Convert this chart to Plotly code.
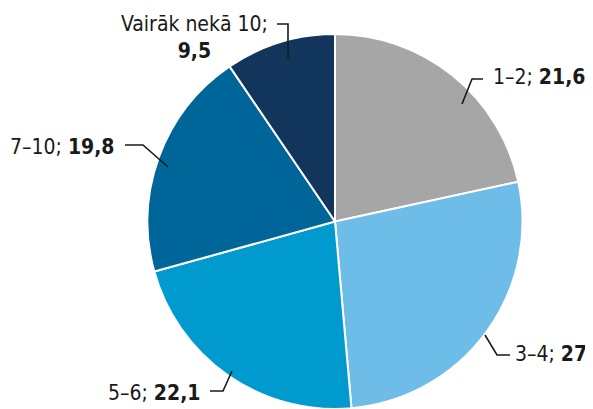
import plotly.graph_objects as go

categories = ["1–2", "3–4", "5–6", "7–10", "Vairāk nekā 10"]
values = [21.6, 27, 22.1, 19.8, 9.5]
value_labels = ["21,6", "27", "22,1", "19,8", "9,5"]
colors = ["#a6a6a6", "#6dbde8", "#009ace", "#006598", "#12355b"]

OFF = 8  # default page body margin
W, H = 593 - OFF, 409 - OFF
FONT = "Liberation Sans Narrow, DejaVu Sans Condensed, sans-serif"


def px(x, y):
    return (x - OFF) / W, 1 - (y - OFF) / H


x0, _ = px(147.5, 0)
x1, _ = px(522.5, 0)
_, ytop = px(0, 34)

fig = go.Figure()
fig.add_trace(go.Pie(
    labels=categories, values=values, sort=False, direction="clockwise",
    rotation=0, textinfo="none", hoverinfo="label+value",
    marker=dict(colors=colors, line=dict(color="white", width=2)),
    domain=dict(x=[x0, x1], y=[0, ytop]),
    showlegend=False,
))

labels_pos = [
    (491, 77, "left", f"{categories[0]}; <b>{value_labels[0]}</b>"),
    (513, 354, "left", f"{categories[1]}; <b>{value_labels[1]}</b>"),
    (202, 393, "right", f"{categories[2]}; <b>{value_labels[2]}</b>"),
    (117, 147, "right", f"{categories[3]}; <b>{value_labels[3]}</b>"),
    (195, 37, "center", f"{categories[4]};<br><b>{value_labels[4]}</b>"),
]
leaders = [
    [(462, 104), (472, 79), (483, 79)],
    [(485, 335), (497, 355), (510, 355)],
    [(232, 371), (223, 391), (210, 391)],
    [(168, 167), (143, 145), (125, 145)],
    [(288, 58), (288, 24), (277, 24)],
]

for x, y, al, txt in labels_pos:
    ax, ay = px(x, y)
    fig.add_annotation(
        x=ax, y=ay, xref="paper", yref="paper", text=txt, showarrow=False,
        xanchor=al, yanchor="middle", align=al,
        font=dict(family=FONT, size=21, color="#1a1a1a"),
    )

for pts in leaders:
    path = "M " + " L ".join("{:.5f},{:.5f}".format(*px(*p)) for p in pts)
    fig.add_shape(type="path", xref="paper", yref="paper", path=path,
                  line=dict(color="#1a1a1a", width=1.6))

fig.update_layout(
    width=W, height=H, margin=dict(l=0, r=0, t=0, b=0),
    paper_bgcolor="white", plot_bgcolor="white",
)

fig.write_html("out.html")
